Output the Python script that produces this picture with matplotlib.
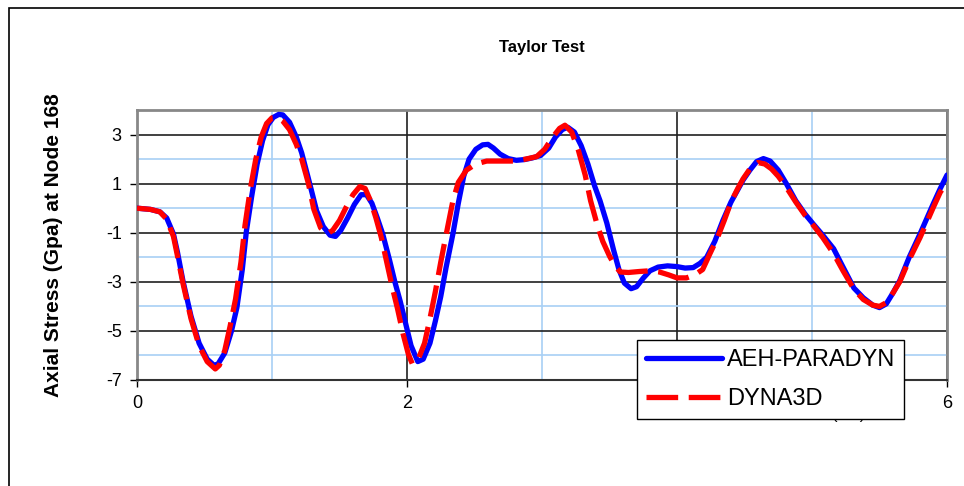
import matplotlib
matplotlib.use("Agg")
import matplotlib.pyplot as plt
from matplotlib.patches import Rectangle

# time axis and axial stress readings (Gpa)
t_aeh = [0.00, 0.10, 0.17, 0.22, 0.27, 0.30, 0.34, 0.40, 0.46, 0.52, 0.57, 0.60, 0.65, 0.70,
         0.74, 0.78, 0.81, 0.85, 0.89, 0.93, 0.97, 1.01, 1.05, 1.08, 1.13, 1.18, 1.22, 1.27,
         1.33, 1.38, 1.43, 1.47, 1.51, 1.56, 1.61, 1.66, 1.70, 1.74, 1.78, 1.82, 1.87, 1.91,
         1.95, 1.99, 2.03, 2.08, 2.12, 2.17, 2.21, 2.25, 2.29, 2.34, 2.38, 2.42, 2.46, 2.51,
         2.56, 2.60, 2.64, 2.69, 2.75, 2.81, 2.87, 2.93, 2.99, 3.05, 3.10, 3.15, 3.19, 3.24,
         3.29, 3.34, 3.39, 3.43, 3.48, 3.53, 3.57, 3.61, 3.66, 3.70, 3.75, 3.80, 3.86, 3.93,
         4.00, 4.06, 4.12, 4.17, 4.22, 4.28, 4.34, 4.40, 4.45, 4.49, 4.54, 4.59, 4.64, 4.69,
         4.75, 4.81, 4.88, 4.95, 5.01, 5.08, 5.16, 5.23, 5.31, 5.38, 5.45, 5.50, 5.55, 5.60,
         5.65, 5.72, 5.80, 5.86, 5.90, 5.95, 6.00]
aeh_paradyn = [0.00, -0.05, -0.15, -0.40, -1.05, -1.80, -2.95, -4.40, -5.50, -6.15, -6.40, -6.35,
               -5.90, -5.00, -4.05, -2.50, -0.95, 0.50, 1.80, 2.75, 3.40, 3.70, 3.82, 3.80, 3.50,
               2.90, 2.25, 1.20, -0.10, -0.75, -1.10, -1.15, -0.90, -0.40, 0.15, 0.55, 0.55, 0.20,
               -0.40, -1.05, -2.10, -3.00, -3.80, -4.70, -5.60, -6.25, -6.15, -5.50, -4.60, -3.60,
               -2.40, -1.05, 0.20, 1.30, 2.00, 2.40, 2.58, 2.60, 2.45, 2.20, 2.02, 1.95, 1.98,
               2.05, 2.15, 2.45, 2.90, 3.20, 3.30, 3.10, 2.55, 1.80, 0.90, 0.30, -0.60, -1.70,
               -2.50, -3.05, -3.28, -3.20, -2.85, -2.55, -2.40, -2.35, -2.38, -2.44, -2.42, -2.25,
               -2.00, -1.35, -0.50, 0.25, 0.75, 1.15, 1.55, 1.90, 2.02, 1.92, 1.55, 1.00, 0.30,
               -0.25, -0.65, -1.10, -1.65, -2.40, -3.25, -3.65, -3.95, -4.05, -3.90, -3.45, -2.95,
               -2.00, -1.05, -0.30, 0.20, 0.80, 1.35]

t_dyna = [0.00, 0.10, 0.17, 0.22, 0.27, 0.30, 0.34, 0.40, 0.46, 0.52, 0.58, 0.61, 0.65, 0.69,
          0.73, 0.77, 0.80, 0.84, 0.88, 0.92, 0.96, 1.00, 1.04, 1.08, 1.13, 1.18, 1.22, 1.27,
          1.31, 1.36, 1.41, 1.45, 1.50, 1.55, 1.60, 1.65, 1.69, 1.73, 1.77, 1.81, 1.85, 1.89,
          1.93, 1.97, 2.01, 2.04, 2.08, 2.13, 2.17, 2.21, 2.25, 2.30, 2.34, 2.38, 2.44, 2.51,
          2.59, 2.69, 2.79, 2.88, 2.96, 3.02, 3.08, 3.13, 3.17, 3.22, 3.27, 3.32, 3.36, 3.41,
          3.45, 3.50, 3.54, 3.58, 3.64, 3.72, 3.80, 3.87, 3.94, 4.00, 4.07, 4.13, 4.19, 4.24,
          4.30, 4.35, 4.40, 4.45, 4.49, 4.54, 4.60, 4.65, 4.70, 4.75, 4.81, 4.88, 4.95, 5.01,
          5.08, 5.16, 5.23, 5.31, 5.38, 5.45, 5.50, 5.55, 5.60, 5.65, 5.72, 5.80, 5.86, 5.90,
          5.95, 6.00]
dyna3d = [0.00, -0.05, -0.15, -0.45, -1.15, -1.95, -3.05, -4.50, -5.60, -6.25, -6.55, -6.40,
          -5.80, -4.80, -3.70, -2.20, -0.70, 0.80, 2.00, 2.90, 3.45, 3.68, 3.70, 3.55, 3.20,
          2.60, 2.00, 1.00, -0.05, -0.80, -1.05, -0.90, -0.50, 0.05, 0.55, 0.88, 0.80, 0.30,
          -0.40, -1.20, -2.20, -3.20, -4.10, -5.10, -5.95, -6.35, -6.20, -5.50, -4.50, -3.40,
          -2.20, -0.80, 0.30, 1.05, 1.55, 1.80, 1.92, 1.92, 1.92, 2.00, 2.10, 2.40, 2.90,
          3.25, 3.38, 3.10, 2.35, 1.35, 0.30, -0.70, -1.35, -1.95, -2.35, -2.60, -2.62, -2.58,
          -2.55, -2.60, -2.72, -2.84, -2.84, -2.72, -2.50, -1.90, -1.20, -0.50, 0.25, 0.80,
          1.20, 1.60, 1.86, 1.80, 1.60, 1.30, 0.85, 0.25, -0.30, -0.70, -1.20, -1.85, -2.55,
          -3.30, -3.72, -3.95, -4.00, -3.85, -3.45, -3.00, -2.10, -1.20, -0.45, 0.05, 0.65,
          1.05]

x_ticks = [0, 2, 4, 6]
y_ticks = [-7, -5, -3, -1, 1, 3]

plt.rcParams['font.family'] = ['Liberation Sans', 'DejaVu Sans']
plt.rcParams['axes.unicode_minus'] = False

W, H = 964, 486
fig = plt.figure(figsize=(W / 100, H / 100), dpi=100)
ax = fig.add_axes([137 / W, 1 - 380 / H, (947 - 137) / W, (380 - 110) / H])

# outer chart-area border (runs off the right and bottom edges)
fig.patches.append(Rectangle((9 / W, -0.2), 1.0, 1.2 - 8 / H, transform=fig.transFigure,
                             fill=False, edgecolor='black', linewidth=1.2))

ax.set_xlim(0, 6)
ax.set_ylim(-7, 4)
ax.set_xticks(x_ticks)
ax.set_yticks(y_ticks)
ax.set_xticks([1, 3, 5], minor=True)
ax.set_yticks([-6, -4, -2, 0, 2], minor=True)
ax.tick_params(which='minor', length=0)
ax.tick_params(which='major', length=5, width=1, labelsize=13, colors='black', pad=6)

ax.grid(which='major', color='#202020', linewidth=1.2)
ax.grid(which='minor', color='#a8d0f5', linewidth=1.2)
ax.set_axisbelow(True)

for side in ['left', 'top', 'right']:
    ax.spines[side].set_color('#888888')
    ax.spines[side].set_linewidth(2)
ax.spines['bottom'].set_color('#333333')
ax.spines['bottom'].set_linewidth(1.5)

ax.plot(t_aeh, aeh_paradyn, color='#0000ff', linewidth=3.8, label='AEH-PARADYN',
        solid_capstyle='round', solid_joinstyle='round', zorder=3)
ax.plot(t_dyna, dyna3d, color='#ff0000', linewidth=3.8, dashes=(6, 2), label='DYNA3D',
        dash_capstyle='butt', dash_joinstyle='round', zorder=4)

ax.set_title('Taylor Test', fontsize=12, fontweight='bold', pad=42)
ax.set_ylabel('Axial Stress (Gpa) at Node 168', fontsize=15, fontweight='bold', labelpad=31)

# x-axis title, mostly hidden behind the legend
ax.text(865 / W, 1 - 419 / H, 'Time (ms)', transform=fig.transFigure, ha='right',
        va='baseline', fontsize=12, zorder=1, clip_on=False)

leg = ax.legend(loc='upper left', bbox_to_anchor=(637 / W, 1 - 340 / H),
                bbox_transform=fig.transFigure, fontsize=17, frameon=True, fancybox=False,
                framealpha=1, edgecolor='black', borderaxespad=0, handlelength=3.2,
                handletextpad=0.2, labelspacing=0.7, borderpad=0.4)
leg.get_frame().set_linewidth(1)
leg.set_zorder(10)

fig.savefig('out.png', dpi=100)
